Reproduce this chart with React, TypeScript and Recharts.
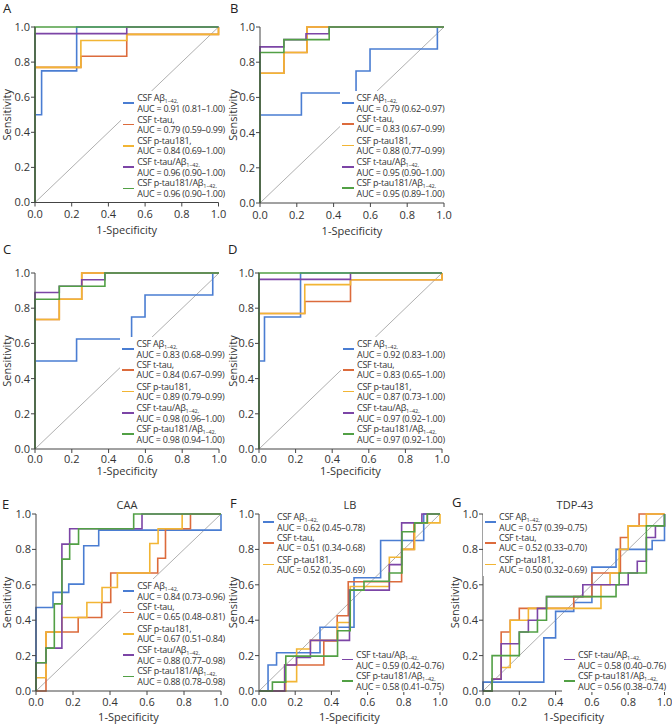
import React from "react";
import { LineChart, Line, XAxis, YAxis, ReferenceLine } from "recharts";

type Pt = [number, number];

const COLORS = ["#4a7dd2", "#dc6b3c", "#f2b534", "#7c45a6", "#52a045"];
const NAMES = ["CSF Aβ", "CSF t-tau,", "CSF p-tau181,", "CSF t-tau/Aβ", "CSF p-tau181/Aβ"];
const SUBS = ["1–42,", "", "", "1–42,", "1–42,"];
const TICKS = [0, 0.2, 0.4, 0.6, 0.8, 1.0];

// ROC points (1-specificity, sensitivity), drawn as steps
// A
const aAb: Pt[] = [[0, 0], [0, 0.5], [0.036, 0.75], [0.227, 1], [1, 1]];
const aTtau: Pt[] = [[0, 0], [0, 0.77], [0.25, 0.833], [0.5, 0.958], [1, 1]];
const aPtau: Pt[] = [[0, 0], [0, 0.77], [0.25, 0.923], [0.5, 0.958], [1, 1]];
const aTtauAb: Pt[] = [[0, 0], [0, 0.962], [0.5, 1], [1, 1]];
const aPtauAb: Pt[] = [[0, 0], [0, 1], [1, 1]];
const aucA = ["0.91 (0.81–1.00)", "0.79 (0.59–0.99)", "0.84 (0.69–1.00)", "0.96 (0.90–1.00)", "0.96 (0.90–1.00)"];

// B
const bAb: Pt[] = [[0, 0], [0, 0.5], [0.225, 0.625], [0.522, 0.75], [0.598, 0.875], [0.964, 1], [1, 1]];
const bTtau: Pt[] = [[0, 0], [0, 0.737], [0.13, 0.855], [0.255, 1], [1, 1]];
const bPtau: Pt[] = [[0, 0], [0, 0.737], [0.13, 0.855], [0.255, 1], [1, 1]];
const bTtauAb: Pt[] = [[0, 0], [0, 0.887], [0.13, 0.928], [0.25, 0.962], [0.376, 1], [1, 1]];
const bPtauAb: Pt[] = [[0, 0], [0, 0.855], [0.13, 0.928], [0.376, 1], [1, 1]];
const aucB = ["0.79 (0.62–0.97)", "0.83 (0.67–0.99)", "0.88 (0.77–0.99)", "0.95 (0.90–1.00)", "0.95 (0.89–1.00)"];

// C
const cAb: Pt[] = [[0, 0], [0, 0.5], [0.226, 0.625], [0.525, 0.75], [0.598, 0.875], [0.966, 1], [1, 1]];
const cTtau: Pt[] = [[0, 0], [0, 0.736], [0.132, 0.851], [0.254, 1], [1, 1]];
const cPtau: Pt[] = [[0, 0], [0, 0.736], [0.132, 0.851], [0.254, 1], [1, 1]];
const cTtauAb: Pt[] = [[0, 0], [0, 0.889], [0.132, 0.925], [0.254, 0.962], [0.38, 1], [1, 1]];
const cPtauAb: Pt[] = [[0, 0], [0, 0.851], [0.132, 0.925], [0.38, 1], [1, 1]];
const aucC = ["0.83 (0.68–0.99)", "0.84 (0.67–0.99)", "0.89 (0.79–0.99)", "0.98 (0.96–1.00)", "0.98 (0.94–1.00)"];

// D
const dAb: Pt[] = [[0, 0], [0, 0.5], [0.03, 0.75], [0.227, 1], [1, 1]];
const dTtau: Pt[] = [[0, 0], [0, 0.77], [0.25, 0.838], [0.5, 0.962], [1, 1]];
const dPtau: Pt[] = [[0, 0], [0, 0.77], [0.25, 0.934], [0.5, 0.962], [1, 1]];
const dTtauAb: Pt[] = [[0, 0], [0, 0.964], [0.5, 1], [1, 1]];
const dPtauAb: Pt[] = [[0, 0], [0, 1], [1, 1]];
const aucD = ["0.92 (0.83–1.00)", "0.83 (0.65–1.00)", "0.87 (0.73–1.00)", "0.97 (0.92–1.00)", "0.97 (0.92–1.00)"];

// E - CAA
const eAb: Pt[] = [[0, 0], [0, 0.472], [0.092, 0.557], [0.177, 0.604], [0.258, 0.821], [0.339, 0.909], [1, 1]];
const eTtau: Pt[] = [[0, 0], [0.054, 0.333], [0.228, 0.415], [0.355, 0.5], [0.404, 0.667], [0.658, 0.75], [0.7, 0.917], [0.835, 1], [1, 1]];
const ePtau: Pt[] = [[0, 0], [0, 0.075], [0.054, 0.333], [0.14, 0.415], [0.275, 0.5], [0.357, 0.585], [0.44, 0.667], [0.615, 0.833], [0.66, 0.917], [0.79, 1], [1, 1]];
const eTtauAb: Pt[] = [[0, 0], [0, 0.16], [0.054, 0.242], [0.14, 0.83], [0.182, 0.917], [0.573, 1], [1, 1]];
const ePtauAb: Pt[] = [[0, 0], [0, 0.16], [0.054, 0.242], [0.099, 0.492], [0.14, 0.745], [0.182, 0.83], [0.23, 0.917], [0.528, 1], [1, 1]];
const aucE = ["0.84 (0.73–0.96)", "0.65 (0.48–0.81)", "0.67 (0.51–0.84)", "0.88 (0.77–0.98)", "0.88 (0.78–0.98)"];

// F - LB
const fAb: Pt[] = [[0, 0], [0.05, 0.147], [0.097, 0.216], [0.337, 0.36], [0.525, 0.64], [0.672, 0.85], [0.91, 1], [1, 1]];
const fTtau: Pt[] = [[0, 0], [0.142, 0.147], [0.358, 0.283], [0.432, 0.425], [0.493, 0.617], [0.788, 0.8], [0.856, 0.95], [0.93, 1], [1, 1]];
const fPtau: Pt[] = [[0, 0], [0.148, 0.053], [0.208, 0.237], [0.284, 0.286], [0.434, 0.387], [0.504, 0.59], [0.72, 0.756], [0.79, 0.8], [0.86, 0.95], [1, 1]];
const fTtauAb: Pt[] = [[0, 0], [0.142, 0.147], [0.207, 0.19], [0.284, 0.286], [0.5, 0.57], [0.72, 0.714], [0.788, 0.95], [0.9, 1], [1, 1]];
const fPtauAb: Pt[] = [[0, 0], [0.074, 0.05], [0.148, 0.197], [0.434, 0.34], [0.504, 0.57], [0.58, 0.62], [0.72, 0.667], [0.79, 0.9], [0.86, 0.95], [0.93, 1], [1, 1]];
const aucF = ["0.62 (0.45–0.78)", "0.51 (0.34–0.68)", "0.52 (0.35–0.69)", "0.59 (0.42–0.76)", "0.58 (0.41–0.75)"];

// G - TDP-43
const gAb: Pt[] = [[0, 0], [0, 0.05], [0.335, 0.3], [0.4, 0.45], [0.5, 0.5], [0.6, 0.7], [0.733, 0.8], [0.932, 0.85], [1, 1]];
const gTtau: Pt[] = [[0, 0], [0.05, 0.067], [0.1, 0.333], [0.15, 0.4], [0.2, 0.467], [0.5, 0.533], [0.6, 0.667], [0.757, 0.867], [0.8, 0.933], [0.86, 1], [1, 1]];
const gPtau: Pt[] = [[0, 0], [0.05, 0.067], [0.1, 0.133], [0.15, 0.4], [0.25, 0.467], [0.65, 0.6], [0.7, 0.667], [0.75, 0.8], [0.8, 0.933], [0.9, 1], [1, 1]];
const gTtauAb: Pt[] = [[0, 0], [0.05, 0.067], [0.1, 0.267], [0.2, 0.333], [0.25, 0.4], [0.3, 0.467], [0.35, 0.533], [0.55, 0.6], [0.8, 0.667], [0.85, 0.733], [0.9, 0.867], [0.95, 0.933], [1, 1]];
const gPtauAb: Pt[] = [[0, 0], [0.05, 0.2], [0.2, 0.333], [0.3, 0.4], [0.35, 0.533], [0.733, 0.6], [0.75, 0.667], [0.9, 0.933], [1, 1]];
const aucG = ["0.57 (0.39–0.75)", "0.52 (0.33–0.70)", "0.50 (0.32–0.69)", "0.58 (0.40–0.76)", "0.56 (0.38–0.74)"];

// layout (page px)
const YW = 32;
const MT = 10;
const MR = 9;
const XH = 40;
const LINE_H = 10;
const STRIDE = 21.3;
const FONT = "'Open Sans', sans-serif";

// tm = tick margin, xl = x-label baseline below plot bottom
const PANELS = [
  { letter: "A", lx: 3, ly: 12, curves: [aAb, aTtau, aPtau, aTtauAb, aPtauAb], auc: aucA, x0: 35, x1: 218.5, y0: 27, y1: 202.5, yl: 6.5, tm: 4, xl: 31.5, legends: [{ from: 0, to: 5, x: 122.7, y: 98.3 }] },
  { letter: "B", lx: 230, ly: 12, curves: [bAb, bTtau, bPtau, bTtauAb, bPtauAb], auc: aucB, x0: 259.5, x1: 443.5, y0: 27, y1: 203, yl: 232.5, tm: 4, xl: 31.5, legends: [{ from: 0, to: 5, x: 342, y: 98 }] },
  { letter: "C", lx: 3, ly: 253, curves: [cAb, cTtau, cPtau, cTtauAb, cPtauAb], auc: aucC, x0: 35, x1: 219, y0: 273, y1: 449, yl: 6.5, tm: 2.5, xl: 26, legends: [{ from: 0, to: 5, x: 122, y: 344 }] },
  { letter: "D", lx: 228, ly: 253, curves: [dAb, dTtau, dPtau, dTtauAb, dPtauAb], auc: aucD, x0: 259, x1: 442, y0: 273, y1: 449, yl: 232.5, tm: 2.5, xl: 26, legends: [{ from: 0, to: 5, x: 342.5, y: 344 }] },
  { letter: "E", lx: 2, ly: 508, title: "CAA", tx: 127, curves: [eAb, eTtau, ePtau, eTtauAb, ePtauAb], auc: aucE, x0: 35.5, x1: 220.5, y0: 514, y1: 691, yl: 6, tm: 3.5, xl: 29.5, legends: [{ from: 0, to: 5, x: 122.7, y: 586.2 }] },
  { letter: "F", lx: 230, ly: 507, title: "LB", tx: 350, curves: [fAb, fTtau, fPtau, fTtauAb, fPtauAb], auc: aucF, x0: 259, x1: 440, y0: 514, y1: 691, yl: 232.5, tm: 3.5, xl: 29.5, legends: [{ from: 0, to: 3, x: 262.5, y: 517 }, { from: 3, to: 5, x: 341.5, y: 654.5 }] },
  { letter: "G", lx: 452, ly: 506, title: "TDP-43", tx: 575, curves: [gAb, gTtau, gPtau, gTtauAb, gPtauAb], auc: aucG, x0: 482.5, x1: 664, y0: 514, y1: 691, yl: 454, tm: 3.5, xl: 29.5, legends: [{ from: 0, to: 3, x: 484.5, y: 517 }, { from: 3, to: 5, x: 563.5, y: 654.5 }] },
];

const toRows = (pts: Pt[]) => pts.map(([x, y]) => ({ x, y }));
const fmt = (v: number) => v.toFixed(1);

function LegendGroup({ from, to, x, y, auc }: { from: number; to: number; x: number; y: number; auc: string[] }) {
  const idx = [];
  for (let i = from; i < to; i++) idx.push(i);
  return (
    <div style={{ position: "absolute", zIndex: 5, left: x - 2, top: y - LINE_H / 2 - 2, padding: 2, paddingBottom: 0, background: "#fff" }}>
      {idx.map((i) => (
        <div
          key={i}
          style={{
            position: "relative",
            height: LINE_H * 2,
            marginBottom: STRIDE - LINE_H * 2,
            paddingLeft: 14.5,
            whiteSpace: "nowrap",
            fontSize: 9,
            letterSpacing: "-0.25px",
            lineHeight: `${LINE_H}px`,
            color: "#333",
          }}
        >
          <span style={{ position: "absolute", left: 0, top: LINE_H - 0.8, width: 11.5, height: 1.6, background: COLORS[i] }} />
          <div>
            {NAMES[i]}
            {SUBS[i] && <span style={{ fontSize: 5.5, letterSpacing: 0, position: "relative", top: 2 }}>{SUBS[i]}</span>}
          </div>
          <div>AUC = {auc[i]}</div>
        </div>
      ))}
    </div>
  );
}

function RocPanel({ p }: { p: (typeof PANELS)[number] }) {
  const plotW = p.x1 - p.x0;
  const plotH = p.y1 - p.y0;
  const w = YW + plotW + MR;
  const h = MT + plotH + XH;
  return (
    <div style={{ position: "absolute", zIndex: 1, left: p.x0 - YW, top: p.y0 - MT }}>
      <LineChart width={w} height={h} margin={{ top: MT, right: MR, bottom: 0, left: 0 }}>
        <XAxis
          type="number"
          dataKey="x"
          domain={[0, 1]}
          ticks={TICKS}
          interval={0}
          tickFormatter={fmt}
          height={XH}
          tickSize={4}
          tickMargin={p.tm}
          stroke="#444"
          tick={{ fontSize: 11, fill: "#333", fontFamily: FONT }}
          label={{ value: "1-Specificity", position: "insideBottom", offset: XH - p.xl, style: { fontSize: 11, fill: "#333", fontFamily: FONT } }}
        />
        <YAxis
          type="number"
          dataKey="y"
          domain={[0, 1]}
          ticks={TICKS}
          interval={0}
          tickFormatter={fmt}
          width={YW}
          tickSize={4}
          tickMargin={1}
          stroke="#444"
          tick={{ fontSize: 11, fill: "#333", fontFamily: FONT }}
        />
        <ReferenceLine segment={[{ x: 0, y: 0 }, { x: 1, y: 1 }]} stroke="#9a9a9a" strokeWidth={0.8} />
        {p.curves.map((c, i) => (
          <Line
            key={i}
            data={toRows(c)}
            dataKey="y"
            type="stepAfter"
            stroke={COLORS[i]}
            strokeWidth={1.6}
            dot={false}
            isAnimationActive={false}
          />
        ))}
      </LineChart>
    </div>
  );
}

export default function App() {
  return (
    <div style={{ position: "absolute", left: 0, top: 0, width: 672, height: 724, background: "#fff", overflow: "hidden", fontFamily: FONT }}>
      {PANELS.map((p) => (
        <RocPanel key={p.letter} p={p} />
      ))}
      {PANELS.map((p) =>
        p.legends.map((g, k) => <LegendGroup key={p.letter + k} from={g.from} to={g.to} x={g.x} y={g.y} auc={p.auc} />)
      )}
      <svg width={672} height={724} style={{ position: "absolute", zIndex: 6, left: 0, top: 0, pointerEvents: "none" }}>
        {PANELS.map((p) => (
          <g key={p.letter}>
            <text x={p.lx} y={p.ly + 0.5} fontSize={13} fill="#222" fontFamily={FONT}>
              {p.letter}
            </text>
            <text
              transform={`translate(${p.yl}, ${(p.y0 + p.y1) / 2}) rotate(-90)`}
              fontSize={11}
              fill="#333"
              textAnchor="middle"
              dominantBaseline="central"
              fontFamily={FONT}
            >
              Sensitivity
            </text>
            {p.title && (
              <text x={p.tx} y={509} fontSize={11} fill="#333" textAnchor="middle" fontFamily={FONT}>
                {p.title}
              </text>
            )}
          </g>
        ))}
      </svg>
    </div>
  );
}
